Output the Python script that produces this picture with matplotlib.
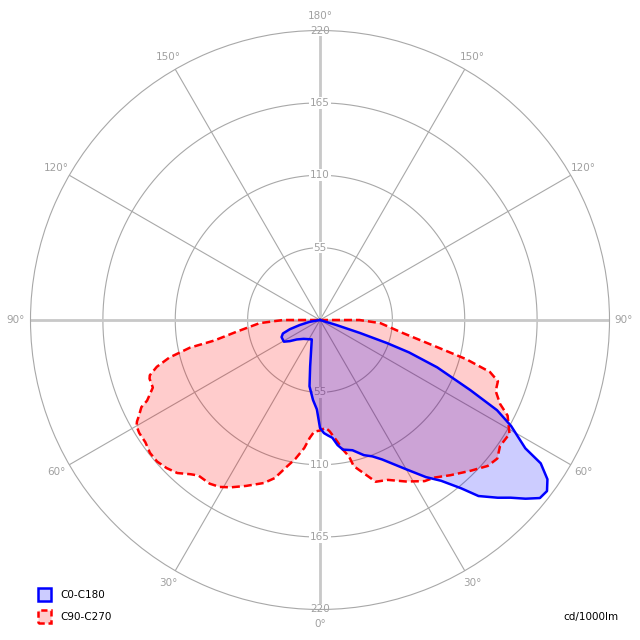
import numpy as np
import matplotlib
matplotlib.use('Agg')
import matplotlib.pyplot as plt
from matplotlib.patches import Rectangle

# intensity in cd/1000lm (gamma in degrees)
c0_gamma = [0, 2, 4, 6, 8, 10, 14, 18, 21, 24, 30, 34, 37, 40, 42, 45, 47, 49, 51, 53,
            55, 57, 58, 61, 63, 65, 68, 70, 71, 72, 73, 75, 180]
c0_I = [82, 86, 88, 90, 96, 100, 102, 108, 111, 116, 131, 144, 153, 167, 180, 191, 198, 207, 215, 216,
        211, 200, 184, 166, 151, 126, 96, 72, 54, 32, 13, 0, 0]
c180_gamma = [0, 2, 5, 9, 12, 23, 41, 50, 55, 59, 66, 70, 73, 76, 80, 180]
c180_I = [82, 68, 61, 51, 36, 16, 19, 23, 28, 32, 32, 30, 24, 16, 8, 0]

c90_gamma = [0, 3, 5, 8, 10, 12, 13, 17, 19, 23, 28, 33, 36, 40, 45, 49, 52, 55, 59, 63,
             65, 68, 71, 73, 75, 77, 81, 87, 90, 180]
c90_I = [84, 82, 85, 93, 100, 106, 114, 124, 130, 132, 139, 146, 148, 154, 162, 169, 171, 167, 168, 160,
         151, 144, 143, 135, 115, 91, 64, 46, 30, 0]
c270_gamma = [0, 3, 5, 7, 10, 13, 16, 19, 24, 28, 31, 34, 38, 40, 43, 46, 49, 52, 55, 58,
              60, 61, 62, 64, 65, 68, 71, 72, 74, 76, 78, 79, 82, 87, 90, 180]
c270_I = [84, 85, 90, 98, 107, 115, 125, 131, 138, 144, 148, 150, 150, 153, 159, 162, 164, 164, 162, 162,
          161, 159, 156, 151, 145, 137, 137, 136, 129, 118, 101, 82, 64, 46, 28, 0]

rings = [55, 110, 165, 220]
angle_labels = ['0°', '30°', '60°', '90°', '120°', '150°', '180°']

grey = '#a8a8a8'
txt_grey = '#a0a0a0'


def curve(g_right, i_right, g_left, i_left):
    # right half (C0 / C90) then left half (C180 / C270)
    th = np.concatenate([np.radians(g_right[::-1]), np.radians(360 - np.array(g_left))])
    r = np.concatenate([i_right[::-1], i_left])
    return th, r


fig = plt.figure(figsize=(6.4, 6.4), dpi=100)
ax = fig.add_axes([30.5 / 640, 30.5 / 640, 579 / 640, 579 / 640], projection='polar')
ax.set_theta_zero_location('S')
ax.set_ylim(0, 220)
ax.set_xticks([])
ax.set_yticks([])
ax.grid(False)
ax.spines['polar'].set_color(grey)
ax.spines['polar'].set_linewidth(0.8)

full = np.linspace(0, 2 * np.pi, 361)
for rr in rings[:-1]:
    ax.plot(full, np.full_like(full, rr), color=grey, lw=0.8, zorder=1)
for a in range(0, 360, 30):
    if a % 90 == 0:
        ax.plot([np.radians(a)] * 2, [0, 220], color='#c8c8c8', lw=2, zorder=1)
    else:
        ax.plot([np.radians(a)] * 2, [0, 220], color=grey, lw=0.8, zorder=1)

for rr in rings:
    for a in [0, np.pi]:
        ax.text(a, rr, str(rr), ha='center', va='center', fontsize=7.5, color=txt_grey, zorder=1.5,
                bbox=dict(fc='white', ec='none', pad=0.6))

for k, lab in enumerate(angle_labels):
    a = k * 30
    ax.text(np.radians(a), 231, lab, ha='center', va='center', fontsize=7.5, color=txt_grey)
    if 0 < a < 180:
        ax.text(np.radians(360 - a), 231, lab, ha='center', va='center', fontsize=7.5, color=txt_grey)

th, r = curve(c90_gamma, c90_I, c270_gamma, c270_I)
ax.fill(th, r, color=(1, 0, 0, 0.2), lw=0, zorder=2)
ax.plot(th, r, color='red', lw=1.8, dashes=(3.2, 1.6), dash_joinstyle='round', zorder=3)

th, r = curve(c0_gamma, c0_I, c180_gamma, c180_I)
ax.fill(th, r, color=(0, 0, 1, 0.2), lw=0, zorder=2)
ax.plot(th, r, color='blue', lw=1.8, solid_joinstyle='round', zorder=4)

# legend
fig.add_artist(Rectangle((37.5 / 640, 1 - 601 / 640), 13 / 640, 13 / 640, transform=fig.transFigure,
                         fc='#ccccff', ec='blue', lw=1.8))
fig.add_artist(Rectangle((37.5 / 640, 1 - 623 / 640), 13 / 640, 13 / 640, transform=fig.transFigure,
                         fc='#ffcccc', ec='red', lw=1.8, ls=(0, (2.5, 1.5))))
fig.text(60 / 640, 1 - 595 / 640, 'C0-C180', fontsize=7.5, va='center', ha='left')
fig.text(60 / 640, 1 - 617 / 640, 'C90-C270', fontsize=7.5, va='center', ha='left')
fig.text(619 / 640, 1 - 617 / 640, 'cd/1000lm', fontsize=7.5, va='center', ha='right')

fig.savefig('out.png', dpi=100)
